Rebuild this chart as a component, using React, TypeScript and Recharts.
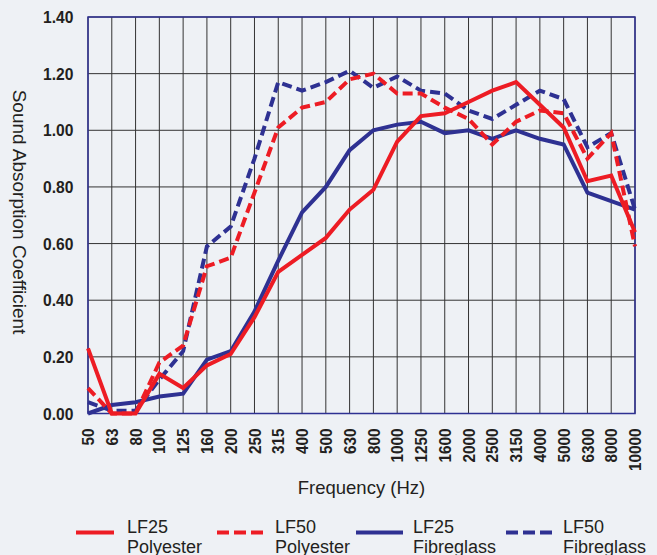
import React from "react"
import {
  LineChart,
  Line,
  XAxis,
  YAxis,
  CartesianGrid,
  ReferenceArea,
} from "recharts"

const FREQS = [
  "50", "63", "80", "100", "125", "160", "200", "250", "315", "400", "500", "630",
  "800", "1000", "1250", "1600", "2000", "2500", "3150", "4000", "5000", "6300", "8000", "10000",
]

const LF25_POLY = [
  0.23, 0.0, 0.0, 0.14, 0.09, 0.17, 0.21, 0.34, 0.5, 0.56, 0.62, 0.72,
  0.79, 0.96, 1.05, 1.06, 1.1, 1.14, 1.17, 1.09, 1.01, 0.82, 0.84, 0.64,
]
const LF50_POLY = [
  0.09, 0.0, 0.0, 0.18, 0.24, 0.52, 0.55, 0.78, 1.01, 1.08, 1.1, 1.18,
  1.2, 1.13, 1.13, 1.08, 1.04, 0.95, 1.03, 1.07, 1.06, 0.9, 0.99, 0.59,
]
const LF25_FIBRE = [
  0.0, 0.03, 0.04, 0.06, 0.07, 0.19, 0.22, 0.36, 0.54, 0.71, 0.8, 0.93,
  1.0, 1.02, 1.03, 0.99, 1.0, 0.97, 1.0, 0.97, 0.95, 0.78, 0.75, 0.72,
]
const LF50_FIBRE = [
  0.04, 0.01, 0.01, 0.12, 0.22, 0.59, 0.66, 0.9, 1.17, 1.14, 1.17, 1.21,
  1.15, 1.19, 1.14, 1.13, 1.07, 1.04, 1.09, 1.14, 1.11, 0.94, 0.99, 0.72,
]

const Y_TICKS = [0, 0.2, 0.4, 0.6, 0.8, 1.0, 1.2, 1.4]

const RED = "#ed1c24"
const BLUE = "#2e3192"
const BG = "#eef1f5"
const INK = "#231f20"
const FONT = "'Liberation Sans', Arial, Helvetica, sans-serif"

// drawn in this order (blue under red); legend spots are [line start, line end, text x]
const SERIES = [
  { key: "lf25f", name: "LF25", sub: "Fibreglass", color: BLUE, dashed: false, spot: [356, 403, 413] },
  { key: "lf50f", name: "LF50", sub: "Fibreglass", color: BLUE, dashed: true, spot: [506, 552, 563] },
  { key: "lf25p", name: "LF25", sub: "Polyester", color: RED, dashed: false, spot: [76, 114, 127] },
  { key: "lf50p", name: "LF50", sub: "Polyester", color: RED, dashed: true, spot: [217, 263, 275] },
]

const data = FREQS.map((f, i) => ({
  freq: f,
  lf25p: LF25_POLY[i],
  lf50p: LF50_POLY[i],
  lf25f: LF25_FIBRE[i],
  lf50f: LF50_FIBRE[i],
}))

// tick fonts in the original are a bit narrow, so squeeze along the text
const FreqTick = ({ x, y, payload }: { x?: number; y?: number; payload?: { value: string } }) => (
  <text
    transform={`translate(${x},${(y ?? 0) + 15}) rotate(-90) scale(0.9,1)`}
    textAnchor="end"
    dy="0.36em"
    fontSize={17}
    fontWeight="bold"
    fontFamily={FONT}
    fill={INK}
  >
    {payload?.value}
  </text>
)

const ValueTick = ({ x, y, payload }: { x?: number; y?: number; payload?: { value: number } }) => (
  <text
    transform={`translate(${x},${y}) scale(0.92,1)`}
    textAnchor="end"
    dy="0.36em"
    fontSize={17}
    fontWeight="bold"
    fontFamily={FONT}
    fill={INK}
  >
    {payload?.value.toFixed(2)}
  </text>
)

const YTitle = () => (
  <text
    transform="translate(20,212) rotate(90)"
    textAnchor="middle"
    dy="0.36em"
    fontSize={19}
    fontFamily={FONT}
    fill={INK}
  >
    Sound Absorption Coefficient
  </text>
)

function LegendBox() {
  return (
    <svg width={657} height={555} style={{ position: "absolute", left: 0, top: 0, pointerEvents: "none" }}>
      {SERIES.map((s) => (
        <g key={s.key}>
          <line
            x1={s.spot[0]}
            x2={s.spot[1]}
            y1={532.5}
            y2={532.5}
            stroke={s.color}
            strokeWidth={4}
            strokeDasharray={s.dashed ? "12 5" : undefined}
          />
          <text x={s.spot[2]} y={533} fontSize={18} fontFamily={FONT} fill={INK}>
            {s.name}
          </text>
          <text x={s.spot[2]} y={552.5} fontSize={18} fontFamily={FONT} fill={INK}>
            {s.sub}
          </text>
        </g>
      ))}
    </svg>
  )
}

export default function App() {
  return (
    <div style={{ position: "fixed", left: 0, top: 0, width: 657, height: 555, background: BG }}>
      <LineChart width={657} height={555} data={data} margin={{ top: 17, right: 22, bottom: 0, left: 0 }}>
        <CartesianGrid stroke="#333" strokeWidth={1} />
        <XAxis
          dataKey="freq"
          type="category"
          scale="point"
          padding={{ left: 0, right: 0 }}
          interval={0}
          height={141.5}
          axisLine={false}
          tickLine={false}
          tickSize={0}
          tickMargin={0}
          tick={<FreqTick />}
          label={{
            value: "Frequency (Hz)",
            position: "insideTop",
            offset: 67,
            fontSize: 18.5,
            fontFamily: FONT,
            fill: INK,
          }}
        />
        <YAxis
          type="number"
          domain={[0, 1.4]}
          ticks={Y_TICKS}
          width={88}
          axisLine={false}
          tickLine={false}
          tickSize={0}
          tickMargin={14.5}
          tick={<ValueTick />}
          label={<YTitle />}
        />
        <ReferenceArea
          x1="50"
          x2="10000"
          y1={0}
          y2={1.4}
          fill="none"
          stroke={BLUE}
          strokeWidth={1.5}
          ifOverflow="visible"
        />
        {SERIES.map((s) => (
          <Line
            key={s.key}
            type="linear"
            dataKey={s.key}
            stroke={s.color}
            strokeWidth={4}
            strokeDasharray={s.dashed ? "10 5" : undefined}
            dot={false}
            activeDot={false}
            isAnimationActive={false}
          />
        ))}
      </LineChart>
      <LegendBox />
    </div>
  )
}
